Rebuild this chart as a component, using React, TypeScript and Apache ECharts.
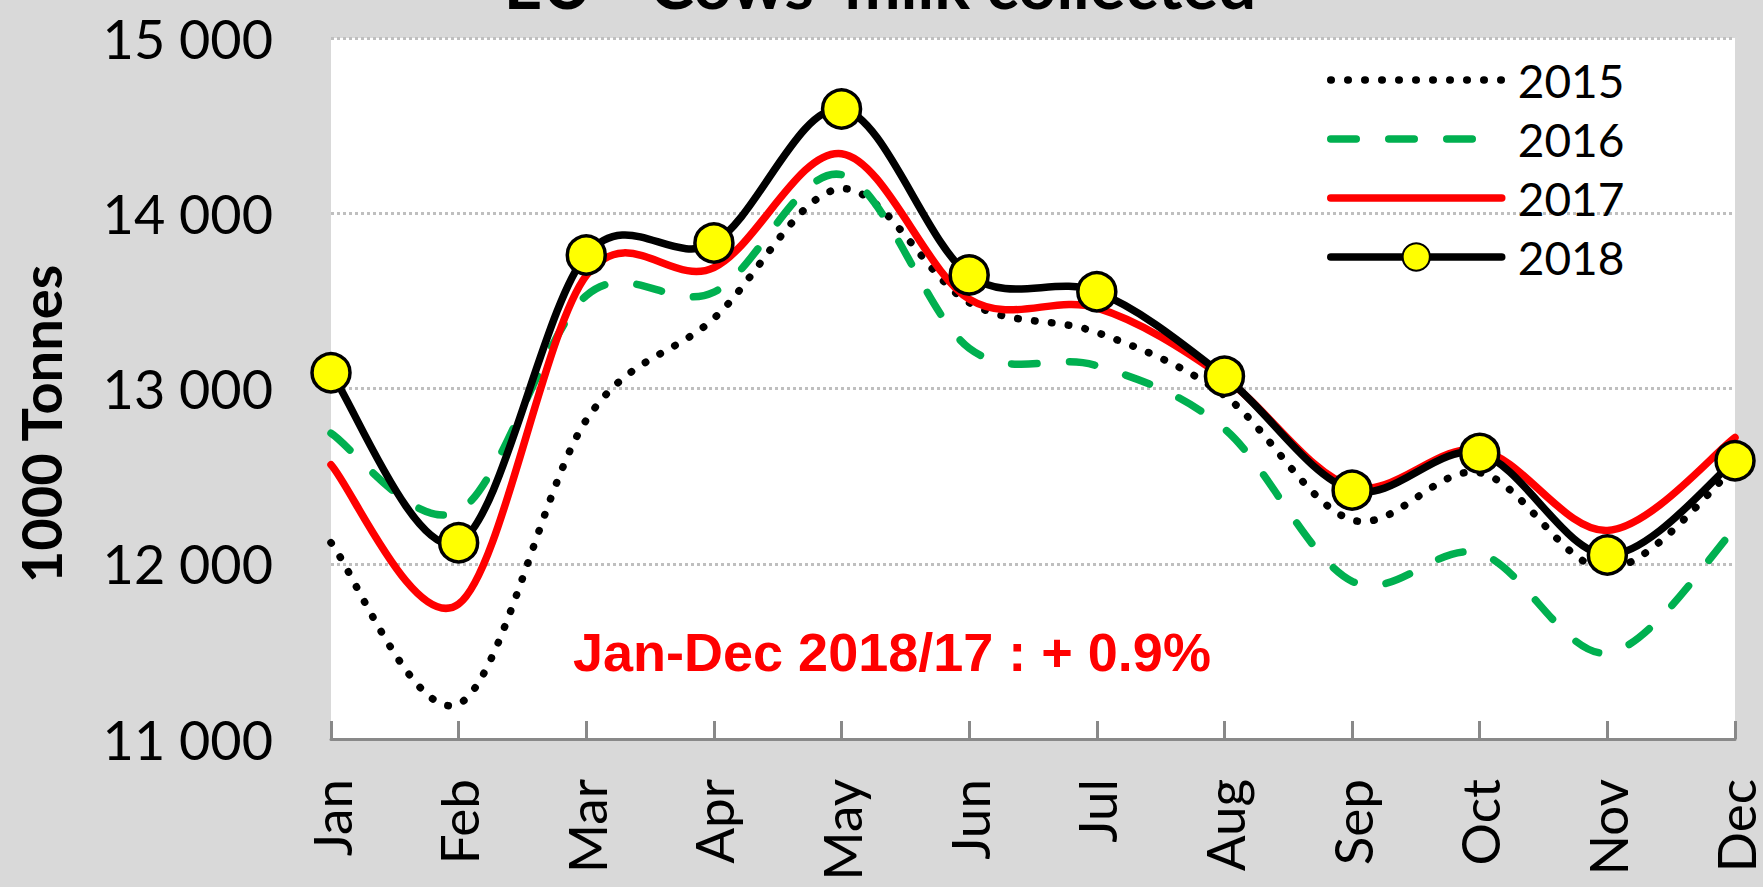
import React, { useEffect, useRef } from 'react';
import * as echarts from 'echarts';

const months = ['Jan', 'Feb', 'Mar', 'Apr', 'May', 'Jun', 'Jul', 'Aug', 'Sep', 'Oct', 'Nov', 'Dec'];
const years = ['2015', '2016', '2017', '2018'];
const y2015 = [12120, 11200, 12820, 13400, 14140, 13490, 13320, 12960, 12250, 12520, 11970, 12550];
const y2016 = [12745, 12300, 13530, 13550, 14220, 13230, 13130, 12770, 11900, 12060, 11490, 12200];
const y2017 = [12565, 11770, 13645, 13690, 14340, 13510, 13460, 13060, 12440, 12650, 12190, 12720];
const y2018 = [13090, 12120, 13762, 13830, 14595, 13648, 13552, 13070, 12420, 12630, 12050, 12588];
const yMin = 11000;
const yMax = 15000;
const yStep = 1000;
const titleText = "EU - Cows' milk collected";
const yAxisTitle = '1000 Tonnes';
const noteText = 'Jan-Dec 2018/17 : + 0.9%';

const fmt = (v: number) => String(v).replace(/\B(?=(\d{3})+(?!\d))/g, ' ');

const LW = 7.5;
const styles = [
  { color: '#000000', dash: [0.5, 16.5] as number[] | null },
  { color: '#00b050', dash: [25.5, 32.5] as number[] | null },
  { color: '#ff0000', dash: null as number[] | null },
  { color: '#000000', dash: null as number[] | null },
];

// Smooth (Catmull-Rom style, like a spreadsheet's smoothed line) drawn through the data via the axes
function makeCurveSeries(name: string, values: number[], color: string, dash: number[] | null) {
  return {
    type: 'custom',
    name: 'curve-' + name,
    silent: true,
    clip: false,
    z: 2,
    data: values.map((v, i) => [months[i], v]),
    renderItem: (params: any, api: any) => {
      if (params.dataIndexInside !== 0) return null;
      const n = values.length;
      const pts: number[][] = [];
      for (let i = 0; i < n; i++) {
        pts.push(api.coord([api.value(0, i), api.value(1, i)]));
      }
      let d = `M${pts[0][0]},${pts[0][1]}`;
      for (let i = 0; i < n - 1; i++) {
        const p0 = pts[Math.max(0, i - 1)];
        const p1 = pts[i];
        const p2 = pts[i + 1];
        const p3 = pts[Math.min(n - 1, i + 2)];
        const c1x = p1[0] + (p2[0] - p0[0]) / 6;
        const c1y = p1[1] + (p2[1] - p0[1]) / 6;
        const c2x = p2[0] - (p3[0] - p1[0]) / 6;
        const c2y = p2[1] - (p3[1] - p1[1]) / 6;
        d += ` C${c1x},${c1y} ${c2x},${c2y} ${p2[0]},${p2[1]}`;
      }
      return {
        type: 'path',
        shape: { pathData: d },
        style: {
          fill: 'none',
          stroke: color,
          lineWidth: LW,
          lineDash: dash || undefined,
          lineCap: 'round',
          lineJoin: 'round',
        },
      };
    },
  };
}

export default function App() {
  const ref = useRef<HTMLDivElement>(null);
  useEffect(() => {
    const chart = echarts.init(ref.current!, undefined, { renderer: 'svg' });
    const all = [y2015, y2016, y2017, y2018];
    const lineSeries = years.map((name, k) => {
      const s: any = {
        type: 'line',
        name,
        data: all[k],
        symbol: 'none',
        silent: true,
        z: 3,
        emphasis: { disabled: true },
        itemStyle: { color: styles[k].color },
        lineStyle: {
          color: styles[k].color,
          width: 0,
          type: styles[k].dash || 'solid',
          cap: 'round',
          join: 'round',
        },
      };
      if (k === 3) {
        s.symbol = 'circle';
        s.symbolSize = 38;
        s.showSymbol = true;
        s.itemStyle = { color: '#ffff00', borderColor: '#000000', borderWidth: 3.5 };
      }
      return s;
    });
    const curveSeries = years.map((name, k) =>
      makeCurveSeries(name, all[k], styles[k].color, styles[k].dash)
    );
    chart.setOption({
      animation: false,
      backgroundColor: '#d9d9d9',
      grid: {
        left: 331,
        right: 28,
        top: 38,
        bottom: 148,
        show: true,
        backgroundColor: '#ffffff',
        borderWidth: 0,
      },
      legend: {
        orient: 'vertical',
        left: 1322,
        top: 52,
        itemWidth: 171,
        itemHeight: 34,
        itemGap: 13,
        selectedMode: false,
        data: [
          { name: years[0], itemStyle: { opacity: 0 } },
          { name: years[1], itemStyle: { opacity: 0 } },
          { name: years[2], itemStyle: { opacity: 0 } },
          { name: years[3] },
        ],
        textStyle: {
          fontFamily: 'Lato',
          fontSize: 46,
          color: '#000',
          lineHeight: 46,
          padding: [0, 0, 0, 11],
        },
        lineStyle: { width: LW },
      },
      xAxis: {
        type: 'category',
        boundaryGap: false,
        data: months,
        axisLine: { lineStyle: { color: '#898989', width: 3 } },
        axisTick: { show: true, inside: true, length: 18, lineStyle: { color: '#898989', width: 3 } },
        axisLabel: {
          rotate: 90,
          margin: 40,
          interval: 0,
          fontFamily: 'Lato',
          fontSize: 53,
          color: '#000',
        },
        splitLine: { show: false },
      },
      yAxis: {
        type: 'value',
        min: yMin,
        max: yMax,
        interval: yStep,
        axisLine: { show: false },
        axisTick: { show: false },
        axisLabel: {
          margin: 58,
          fontFamily: 'Lato',
          fontSize: 54,
          color: '#000',
          formatter: (v: number) => fmt(v),
        },
        splitLine: { lineStyle: { color: '#bfbfbf', width: 3, type: [3, 3] } },
      },
      graphic: [
        {
          type: 'text',
          x: 880,
          y: -17,
          style: {
            text: titleText,
            fill: '#000',
            font: 'bold 67px Lato',
            align: 'center',
            verticalAlign: 'middle',
            textAlign: 'center',
            textVerticalAlign: 'middle',
          },
        },
        {
          type: 'text',
          x: 40,
          y: 424,
          rotation: Math.PI / 2,
          style: {
            text: yAxisTitle,
            fill: '#000',
            font: 'bold 56px Lato',
            align: 'center',
            verticalAlign: 'middle',
            textAlign: 'center',
            textVerticalAlign: 'middle',
          },
        },
        {
          type: 'text',
          x: 573,
          y: 652,
          style: {
            text: noteText,
            fill: '#ff0000',
            font: 'bold 54px "Liberation Sans", Arial, sans-serif',
            align: 'left',
            verticalAlign: 'middle',
            textAlign: 'left',
            textVerticalAlign: 'middle',
          },
        },
      ],
      series: [...curveSeries, ...lineSeries],
    });
    return () => chart.dispose();
  }, []);
  return (
    <div
      ref={ref}
      style={{ position: 'absolute', left: 0, top: 0, width: 1763, height: 887 }}
    />
  );
}
